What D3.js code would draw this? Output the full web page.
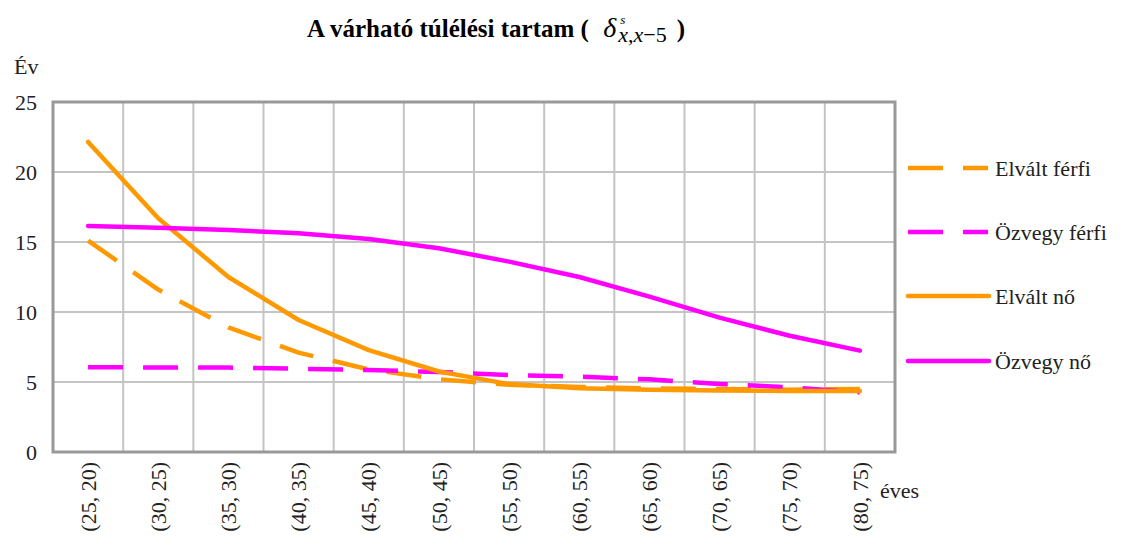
<!DOCTYPE html>
<html>
<head>
<meta charset="utf-8">
<script src="https://cdn.jsdelivr.net/npm/d3@7"></script>
<style>
  body { margin: 0; background: #fff; }
  svg, svg text, svg tspan {
    font-family: "Liberation Serif", "Times New Roman", Times, "Noto Serif", "DejaVu Serif", serif !important;
  }
</style>
</head>
<body>
<svg id="chart" width="1134" height="551"></svg>
<script>
// categories and series
var categories = ["(25, 20)","(30, 25)","(35, 30)","(40, 35)","(45, 40)","(50, 45)",
                  "(55, 50)","(60, 55)","(65, 60)","(70, 65)","(75, 70)","(80, 75)"]
var elvaltFerfi  = [15.1, 11.6, 8.9, 7.1, 5.9, 5.2, 4.8, 4.65, 4.55, 4.5, 4.45, 4.5]
var ozvegyFerfi  = [6.05, 6.04, 6.03, 5.95, 5.85, 5.72, 5.5, 5.38, 5.19, 4.86, 4.62, 4.26]
var elvaltNo     = [22.15, 16.7, 12.5, 9.43, 7.28, 5.75, 4.85, 4.55, 4.45, 4.4, 4.35, 4.35]
var ozvegyNo     = [16.14, 16.02, 15.86, 15.62, 15.21, 14.55, 13.6, 12.5, 11.1, 9.6, 8.3, 7.24]
var yTicks = [0, 5, 10, 15, 20, 25]

var series = [
    {name: "Elvált férfi", values: elvaltFerfi, color: "#ff9900", dash: "35,20"},
    {name: "Özvegy férfi", values: ozvegyFerfi, color: "#ff00ff", dash: "35,20"},
    {name: "Elvált nő",    values: elvaltNo,    color: "#ff9900", dash: null},
    {name: "Özvegy nő",    values: ozvegyNo,    color: "#ff00ff", dash: null}
]

var svg = d3.select("#chart")
var plot = {left: 53, right: 895, top: 102, bottom: 452}

var x = d3.scaleBand().domain(categories).range([plot.left, plot.right])
var y = d3.scaleLinear().domain([0, 25]).range([plot.bottom, plot.top])

/// grid lines
svg.append("g").selectAll("line.h")
    .data(yTicks.slice(1))
    .enter().append("line")
    .attr("x1", plot.left).attr("x2", plot.right)
    .attr("y1", d => y(d)).attr("y2", d => y(d))
    .attr("stroke", "#c4c4c4").attr("stroke-width", 2)

svg.append("g").selectAll("line.v")
    .data(categories.slice(1))
    .enter().append("line")
    .attr("x1", d => x(d)).attr("x2", d => x(d))
    .attr("y1", plot.top).attr("y2", plot.bottom)
    .attr("stroke", "#c4c4c4").attr("stroke-width", 2)

/// plot border
svg.append("rect")
    .attr("x", plot.left).attr("y", plot.top)
    .attr("width", plot.right - plot.left).attr("height", plot.bottom - plot.top)
    .attr("fill", "none").attr("stroke", "#999").attr("stroke-width", 3)

/// y axis labels
var yAxis = svg.append("g")
    .attr("transform", "translate(" + (plot.left - 16) + ",0)")
    .call(d3.axisLeft(y).tickValues(yTicks).tickSize(0).tickPadding(0))
yAxis.select(".domain").remove()
yAxis.selectAll("text")
    .attr("font-size", 22).attr("fill", "#222")

/// x axis labels (rotated)
var xAxis = svg.append("g")
    .attr("transform", "translate(0," + (plot.bottom + 10) + ")")
    .call(d3.axisBottom(x).tickSize(0).tickPadding(0))
xAxis.select(".domain").remove()
xAxis.selectAll("text")
    .attr("font-size", 22).attr("fill", "#222")
    .attr("transform", "rotate(-90)")
    .attr("text-anchor", "end")
    .attr("x", 0).attr("y", 0).attr("dy", "0.35em")

/// axis titles
svg.append("text").attr("x", 14).attr("y", 74)
    .attr("font-size", 22).attr("fill", "#222").text("Év")
svg.append("text").attr("x", 880).attr("y", 498)
    .attr("font-size", 22).attr("fill", "#222").text("éves")

/// title
var title = svg.append("text")
    .attr("x", 307).attr("y", 37)
    .attr("font-size", 25).attr("font-weight", "bold").attr("fill", "#000")
title.append("tspan").text("A várható túlélési tartam ( ")
title.append("tspan").attr("font-style", "italic").attr("font-weight", "normal")
    .attr("font-size", 28).attr("dx", 8).text("δ")
title.append("tspan").attr("font-style", "italic").attr("font-weight", "normal")
    .attr("font-size", 13).attr("dx", 4).attr("dy", -13).text("s")
title.append("tspan").attr("font-style", "italic").attr("font-weight", "normal")
    .attr("font-size", 22).attr("dx", -7).attr("dy", 18).text("x")
title.append("tspan").attr("font-weight", "normal").attr("font-size", 22).text(",")
title.append("tspan").attr("font-style", "italic").attr("font-weight", "normal")
    .attr("font-size", 22).text("x")
title.append("tspan").attr("font-weight", "normal").attr("font-size", 22).text("−5")
title.append("tspan").attr("dx", 10).attr("dy", -5).text(")")

/// series lines
var line = d3.line()
    .x((d, i) => x(categories[i]) + x.bandwidth() / 2)
    .y(d => y(d))

svg.append("g").selectAll("path.series")
    .data(series)
    .enter().append("path")
    .attr("d", d => line(d.values))
    .attr("fill", "none")
    .attr("stroke", d => d.color)
    .attr("stroke-width", 4.5)
    .attr("stroke-dasharray", d => d.dash)
    .attr("stroke-linecap", d => d.dash ? "butt" : "round")
    .attr("stroke-linejoin", "round")

/// legend
var legendY = [168, 232, 296, 361]
var legend = svg.append("g").selectAll("g")
    .data(series)
    .enter().append("g")
    .attr("transform", (d, i) => "translate(908," + legendY[i] + ")")

legend.append("line")
    .attr("x1", 0).attr("x2", d => d.dash ? 80 : 81)
    .attr("y1", 0).attr("y2", 0)
    .attr("stroke", d => d.color)
    .attr("stroke-width", 4.5)
    .attr("stroke-dasharray", d => d.dash)
    .attr("stroke-linecap", d => d.dash ? "butt" : "round")

legend.append("text")
    .attr("x", 87).attr("y", 0).attr("dy", "0.35em")
    .attr("font-size", 22).attr("fill", "#222")
    .text(d => d.name)
</script>
</body>
</html>
